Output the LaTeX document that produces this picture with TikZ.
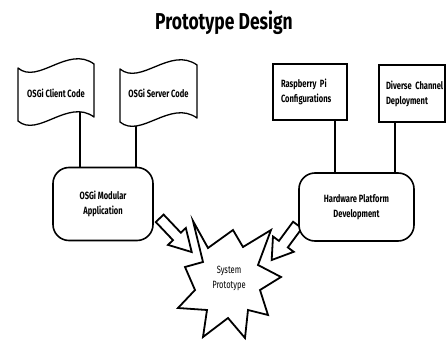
\documentclass[tikz,border=0pt]{standalone}
\usepackage{fontspec}
\setmainfont{Fira Sans}
\newfontfamily\titlef{Fira Sans}[FakeStretch=0.76]
\newfontfamily\bodyf{Fira Sans}[FakeStretch=0.72]
\begin{document}
\begin{tikzpicture}[x=1pt,y=-1pt,
  bodytext/.style={font=\bodyf\bfseries\fontsize{10.5}{15}\selectfont},
  flagline/.style={draw=black, line width=1.3pt, fill=white, line join=round},
  sqbox/.style={draw=black, line width=1.8pt, fill=white, inner xsep=8pt, align=left, bodytext},
  rbox/.style={draw=black, line width=1.6pt, fill=white, rounded corners=16pt, align=center, bodytext},
  conn/.style={draw=black, line width=1.1pt},
  blockarr/.style={draw=black, line width=1.8pt, fill=white, line join=miter},
  starline/.style={draw=black, line width=1.8pt, fill=white, line join=miter, miter limit=20}
]
\useasboundingbox (0,0) rectangle (448,343);

% title
\node[font=\titlef\bfseries\fontsize{23}{27}\selectfont, anchor=base] (title) at (224,29) {Prototype Design};

% main boxes (positions only, drawn later)
\path (103,204) node[rbox, minimum width=100pt, minimum height=73pt, draw=none, fill=none] (modp) {};
\path (356.5,207) node[rbox, minimum width=115pt, minimum height=68pt, draw=none, fill=none] (hwp) {};

% connector anchors inside the flags / boxes
\coordinate (cl) at (80,100);
\coordinate (sv) at (136,100);
\coordinate (rp) at (335,100);
\coordinate (dv) at (395,100);
\draw[conn] (cl) -- (cl |- modp.north);
\draw[conn] (sv) -- (sv |- modp.north);
\draw[conn] (rp) -- (rp |- hwp.north);
\draw[conn] (dv) -- (dv |- hwp.north);

% flags
\node[minimum width=76pt, minimum height=52pt] (client) at (56,93) {};
\draw[flagline, shift={(client.center)}]
  (-38,-25) .. controls (-18,-8) and (12,-48) .. (38,-29)
  -- (38,24) .. controls (12,5) and (-18,45) .. (-38,28) -- cycle;
\node[bodytext] (clientt) at (client.center) {OSGi Client Code};

\node[minimum width=77pt, minimum height=52pt] (server) at (158.5,93) {};
\draw[flagline, shift={(server.center)}]
  (-38.5,-24) .. controls (-18,-7) and (12,-47) .. (38.5,-28)
  -- (38.5,25) .. controls (12,6) and (-18,46) .. (-38.5,29) -- cycle;
\node[bodytext] (servert) at (server.center) {OSGi Server Code};

% rectangles
\node[sqbox, text width=58pt, minimum height=56pt] (rasp) at (310,92) {\mbox{Raspberry Pi}\\\mbox{Configurations}};
\node[sqbox, text width=52pt, inner xsep=7pt, minimum height=57pt] (div) at (412,93.5) {\mbox{Diverse Channel}\\\mbox{Deployment}};

% block arrows
\draw[blockarr, shift={(159.7,218.3)}, rotate=-46.5]
  (0,-5.4) -- (25,-5.4) -- (25,-12.3) -- (46.5,0) -- (25,12.3) -- (25,5.4) -- (0,5.4) -- cycle;
\draw[blockarr, shift={(297.5,225)}, rotate=-126.4]
  (0,-5.5) -- (23.8,-5.5) -- (23.8,-12.9) -- (43.5,0) -- (23.8,12.9) -- (23.8,5.5) -- (0,5.5) -- cycle;

% rounded boxes
\node[rbox, minimum width=100pt, minimum height=73pt] (mod) at (modp) {OSGi Modular\\Application};
\node[rbox, minimum width=115pt, minimum height=68pt] (hw) at (hwp) {Hardware Platform\\Development};

% star
\draw[starline] (193,221) -- (208,248) -- (233,230) -- (243,247) -- (271,230) -- (258,265)
  -- (281,277) -- (260,290) -- (268,315) -- (248,310) -- (245,338) -- (228,318)
  -- (203,337) -- (207,310) -- (178,308) -- (195,290) -- (185,267) -- (203,262) -- cycle;
\node[font=\bodyf\fontsize{10.5}{15}\selectfont, align=center] (sys) at (229,278) {System\\Prototype};
\end{tikzpicture}
\end{document}
